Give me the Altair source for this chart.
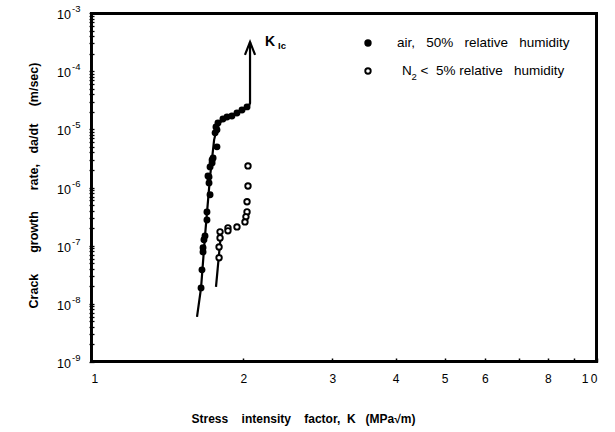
import altair as alt
import pandas as pd

NB = "\u00a0"

# ---- data ----
# air, 50% relative humidity (filled circles)
air_K = [2.034, 1.988, 1.943, 1.899, 1.857, 1.823, 1.782, 1.766, 1.774, 1.759,
         1.774, 1.743, 1.735, 1.735, 1.719, 1.703, 1.711, 1.711, 1.719, 1.695,
         1.695, 1.680, 1.672, 1.665, 1.665, 1.657, 1.650]
air_rate = [2.43e-5, 2.15e-5, 1.91e-5, 1.70e-5, 1.63e-5, 1.51e-5, 1.29e-5, 1.10e-5, 9.8e-6, 8.7e-6,
            5.0e-6, 3.23e-6, 2.98e-6, 2.65e-6, 2.26e-6, 1.58e-6, 1.52e-6, 1.20e-6, 7.5e-7, 3.81e-7,
            2.77e-7, 1.47e-7, 1.26e-7, 9.2e-8, 7.8e-8, 3.84e-8, 1.88e-8]

# N2 < 5% relative humidity (open circles)
n2_K = [2.043, 2.043, 2.034, 2.034, 2.024, 2.015, 1.943, 1.865, 1.865, 1.799, 1.799, 1.791, 1.791]
n2_rate = [2.35e-6, 1.06e-6, 5.7e-7, 3.81e-7, 3.13e-7, 2.56e-7, 2.10e-7, 2.02e-7, 1.80e-7,
           1.73e-7, 1.36e-7, 9.5e-8, 6.2e-8]

# fitted curve for air, ending in the K_Ic arrow shaft
air_fit_K = [1.620, 1.650, 1.680, 1.719, 1.751, 1.782, 1.840, 1.970, 2.052, 2.062, 2.062]
air_fit_rate = [5.98e-9, 1.88e-8, 1.47e-7, 1.52e-6, 6.6e-6, 1.24e-5, 1.51e-5, 1.99e-5, 2.52e-5,
                2.84e-5, 3.18e-4]
# arrow head
head_K = [2.015, 2.062, 2.110]
head_rate = [1.90e-4, 3.18e-4, 1.90e-4]
# fitted line for N2
n2_fit_K = [1.766, 1.807]
n2_fit_rate = [1.96e-8, 1.66e-7]

# axis range, ticks, labels
x_range = [1, 10]
y_range = [1e-9, 1e-3]
x_ticks = [1, 2, 3, 4, 5, 6, 7, 8, 9, 10]
y_decades = [1e-3, 1e-4, 1e-5, 1e-6, 1e-7, 1e-8, 1e-9]
y_exps = ["-3", "-4", "-5", "-6", "-7", "-8", "-9"]
y_ticks = [m * 10.0 ** e for e in range(-9, -3) for m in range(1, 10)] + [1e-3]

# frame box corners, a hair inside the axis range
box_K = [1.004, 9.96, 9.96, 1.004, 1.004]
box_R = [1.035e-9, 1.035e-9, 9.65e-4, 9.65e-4, 1.035e-9]

# annotations (legend, K_Ic label)
kic_text = ["K", "Ic"]
kic_K = [2.208, 2.343]
kic_rate = [3.18e-4, 2.71e-4]
kic_fs = [14, 9.5]

leg_sym_K = [3.527, 3.527]
leg_sym_rate = [3.05e-4, 1.008e-4]
leg_text = ["air," + NB * 3 + "50%" + NB * 3 + "relative" + NB * 3 + "humidity",
            "N", "2",
            "<" + NB * 2 + "5%" + NB + "relative" + NB * 3 + "humidity"]
leg_K = [4.025, 4.118, 4.30, 4.48]
leg_rate = [3.05e-4, 1.008e-4, 8.0e-5, 1.008e-4]
leg_fs = [13.5, 13.5, 9.5, 13.5]

FONT = "Liberation Sans"

# ---- tables ----
air_df = pd.DataFrame({"K": air_K, "R": air_rate})
n2_df = pd.DataFrame({"K": n2_K, "R": n2_rate})
lines_df = pd.concat([
    pd.DataFrame({"K": air_fit_K, "R": air_fit_rate, "s": "air", "i": range(len(air_fit_K))}),
    pd.DataFrame({"K": head_K, "R": head_rate, "s": "head", "i": range(len(head_K))}),
    pd.DataFrame({"K": n2_fit_K, "R": n2_fit_rate, "s": "n2", "i": range(len(n2_fit_K))}),
    pd.DataFrame({"K": box_K, "R": box_R, "s": "box", "i": range(len(box_K))}),
])
ylab_df = pd.DataFrame({"K": [x_range[0]] * len(y_decades), "R": y_decades,
                        "t": ["10"] * len(y_decades), "e": y_exps})
kic_df = pd.DataFrame({"K": kic_K, "R": kic_rate, "t": kic_text, "fs": kic_fs})
legsym_df = pd.DataFrame({"K": leg_sym_K, "R": leg_sym_rate, "f": ["black", "white"]})
legtxt_df = pd.DataFrame({"K": leg_K, "R": leg_rate, "t": leg_text, "fs": leg_fs})

xscale = alt.Scale(type="log", domain=x_range, nice=False)
yscale = alt.Scale(type="log", domain=y_range, nice=False)

x_title = ("Stress" + NB * 4 + "intensity" + NB * 4 + "factor," + NB * 2 + "K" + NB * 3 + "(MPa\u221am)")
y_title = ("Crack" + NB * 6 + "growth" + NB * 6 + "rate," + NB * 3 + "da/dt" + NB * 5 + "(m/sec)")

xaxis = alt.Axis(values=x_ticks, tickSize=4, offset=-4, domain=False, grid=False,
                 tickColor="black", tickWidth=1.5,
                 labelExpr="indexof([1,2,3,4,5,6,8], datum.value) >= 0 ? '' + datum.value : (datum.value == 10 ? '1\u20090' : '')",
                 labelFont=FONT, labelFontSize=12, labelColor="black", labelPadding=11,
                 title=x_title, titleFont=FONT, titleFontSize=12, titleFontWeight="bold",
                 titleColor="black", titleX=212, titleY=60, titleAnchor="middle",
                 titleBaseline="middle")
yaxis = alt.Axis(values=y_ticks, tickSize=5, offset=-3, domain=False, grid=False, labels=False,
                 tickColor="black", tickWidth=1.3,
                 title=y_title, titleFont=FONT, titleFontSize=12.5, titleFontWeight="bold",
                 titleColor="black", titleAngle=-90, titleX=-61, titleY=172,
                 titleAlign="center", titleBaseline="middle")

X = alt.X("K:Q", scale=xscale, axis=xaxis)
Y = alt.Y("R:Q", scale=yscale, axis=yaxis)

lines = alt.Chart(lines_df).mark_line(color="black", strokeWidth=2.2, strokeJoin="miter").encode(
    x=X, y=Y, detail="s:N", order="i:Q")
air_pts = alt.Chart(air_df).mark_point(filled=True, color="black", size=48, opacity=1).encode(x=X, y=Y)
n2_pts = alt.Chart(n2_df).mark_point(shape="circle", fill="white", stroke="black",
                                     strokeWidth=1.9, size=30, opacity=1, fillOpacity=1).encode(x=X, y=Y)
leg_sym = alt.Chart(legsym_df).mark_point(shape="circle", stroke="black", strokeWidth=1.9,
                                          size=30, opacity=1, fillOpacity=1).encode(
    x=X, y=Y, fill=alt.Fill("f:N", scale=None))
leg_txt = alt.Chart(legtxt_df).mark_text(align="left", baseline="middle", font=FONT,
                                         color="black").encode(
    x=X, y=Y, text="t:N", size=alt.Size("fs:Q", scale=None))
kic_txt = alt.Chart(kic_df).mark_text(align="left", baseline="middle", font=FONT,
                                      fontWeight="bold", color="black").encode(
    x=X, y=Y, text="t:N", size=alt.Size("fs:Q", scale=None))
ylab_ten = alt.Chart(ylab_df).mark_text(align="right", baseline="middle", font=FONT,
                                        fontSize=12.5, color="black", dx=-20, dy=2).encode(
    x=X, y=Y, text="t:N")
ylab_exp = alt.Chart(ylab_df).mark_text(align="left", baseline="middle", font=FONT,
                                        fontSize=9.5, color="black", dx=-19, dy=-4).encode(
    x=X, y=Y, text="e:N")

chart = alt.layer(lines, air_pts, n2_pts, leg_sym, leg_txt, kic_txt, ylab_ten, ylab_exp).properties(
    width=506, height=349,
    background="white",
    autosize=alt.AutoSizeParams(type="none"),
    padding={"left": 91, "top": 13, "right": 18, "bottom": 70},
).configure_view(stroke="black", strokeWidth=2)

chart.save("out.html", embed_options={"renderer": "svg", "actions": False})
